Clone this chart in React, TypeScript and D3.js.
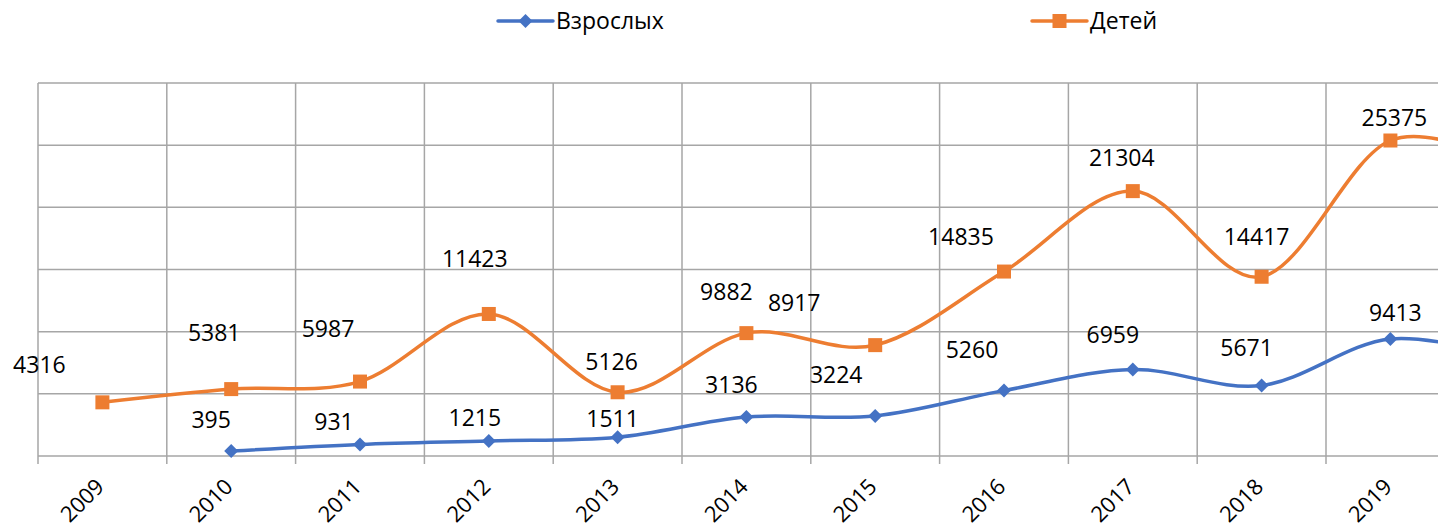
import React, { useEffect, useRef } from 'react';
import * as d3 from 'd3';

// Chart data (2020 lies past the right edge of the picture, only the curve reaches into view)
const years = ['2009', '2010', '2011', '2012', '2013', '2014', '2015', '2016', '2017', '2018', '2019', '2020'];
const adults: (number | null)[] = [null, 395, 931, 1215, 1511, 3136, 3224, 5260, 6959, 5671, 9413, 7700];
const children: (number | null)[] = [4316, 5381, 5987, 11423, 5126, 9882, 8917, 14835, 21304, 14417, 25375, 23000];
const yTicks = [0, 5000, 10000, 15000, 20000, 25000, 30000];

// Data labels were dragged by hand in the original, so keep their nudges (px from the point)
const adultLabelNudge: ([number, number] | null)[] = [
  null, [-20, -23], [-26, -14], [-14, -15], [-5, -10], [-15, -24],
  [-39, -33], [-32, -33], [-20, -26], [-15, -29], [5, -18], null
];
const childLabelNudge: ([number, number] | null)[] = [
  [-63, -29], [-17, -48], [-32, -45], [-14, -47], [-6, -22], [-20, -33],
  [-81, -34], [-43, -27], [-11, -25], [-5, -32], [4, -15], null
];

const BLUE = '#4472C4';
const ORANGE = '#ED7D31';
const GRID = '#a6a6a6';
const FONT = '"Open Sans", sans-serif';

const App = () => {
  const ref = useRef<SVGSVGElement | null>(null);

  useEffect(() => {
    if (!ref.current) return;
    const svg = d3.select(ref.current);
    svg.selectAll('*').remove();

    const width = 1438;
    const height = 530;
    const left = 38;
    const top = 83;
    const bottom = 456;
    const step = 128.8;

    const x = d3.scaleBand<string>()
      .domain(years)
      .range([left, left + step * years.length])
      .padding(0);
    const cx = (y: string) => (x(y) as number) + x.bandwidth() / 2;

    const y = d3.scaleLinear().domain([0, 30000]).range([bottom, top]);

    svg.attr('width', width).attr('height', height);
    svg.append('rect').attr('width', width).attr('height', height).attr('fill', '#fff');

    // horizontal gridlines
    svg.append('g')
      .selectAll('line')
      .data(yTicks)
      .enter()
      .append('line')
      .attr('x1', left)
      .attr('x2', left + step * years.length)
      .attr('y1', d => y(d))
      .attr('y2', d => y(d))
      .attr('stroke', GRID)
      .attr('stroke-width', 1.5);

    // vertical gridlines on category boundaries, running down into tick marks
    const bounds = years.map(d => x(d) as number).concat([left + step * years.length]);
    svg.append('g')
      .selectAll('line')
      .data(bounds)
      .enter()
      .append('line')
      .attr('x1', d => d)
      .attr('x2', d => d)
      .attr('y1', top)
      .attr('y2', bottom + 8)
      .attr('stroke', GRID)
      .attr('stroke-width', 1.5);

    // category labels, rotated (only those whose tick is in view)
    svg.append('g')
      .selectAll('text')
      .data(years.filter(d => cx(d) < width))
      .enter()
      .append('text')
      .attr('transform', d => `translate(${cx(d) + 3}, 488) rotate(-45)`)
      .attr('text-anchor', 'end')
      .style('font-family', FONT)
      .style('font-size', '22px')
      .style('fill', '#000')
      .text(d => d);

    const series = [
      { name: 'Взрослых', values: adults, color: BLUE, marker: 'diamond', nudge: adultLabelNudge },
      { name: 'Детей', values: children, color: ORANGE, marker: 'square', nudge: childLabelNudge }
    ];

    const drawMarker = (g: any, kind: string, color: string, px: number, py: number) => {
      if (kind === 'diamond') {
        g.append('path')
          .attr('d', `M${px},${py - 7}L${px + 7},${py}L${px},${py + 7}L${px - 7},${py}Z`)
          .attr('fill', color);
      } else {
        g.append('rect')
          .attr('x', px - 7)
          .attr('y', py - 7)
          .attr('width', 14)
          .attr('height', 14)
          .attr('fill', color);
      }
    };

    series.forEach(s => {
      const pts = years.map((yr, i) => ({ yr, v: s.values[i], nudge: s.nudge[i] }));

      const line = d3.line<any>()
        .defined(d => d.v !== null)
        .x(d => cx(d.yr))
        .y(d => y(d.v))
        .curve(d3.curveCatmullRom.alpha(0));

      svg.append('path')
        .datum(pts)
        .attr('d', line)
        .attr('fill', 'none')
        .attr('stroke', s.color)
        .attr('stroke-width', 3.5)
        .attr('stroke-linejoin', 'round');

      const mg = svg.append('g');
      pts.filter(d => d.v !== null).forEach(d => drawMarker(mg, s.marker, s.color, cx(d.yr), y(d.v as number)));

      // data labels
      svg.append('g')
        .selectAll('text')
        .data(pts.filter(d => d.v !== null && d.nudge))
        .enter()
        .append('text')
        .attr('x', d => cx(d.yr) + d.nudge[0])
        .attr('y', d => y(d.v) + d.nudge[1])
        .attr('text-anchor', 'middle')
        .style('font-family', FONT)
        .style('font-size', '23px')
        .style('fill', '#000')
        .text(d => String(d.v));
    });

    // legend
    const legendItems = [
      { s: series[0], x0: 498 },
      { s: series[1], x0: 1032 }
    ];
    legendItems.forEach(item => {
      const g = svg.append('g').attr('transform', `translate(${item.x0}, 21)`);
      g.append('line')
        .attr('x1', 0)
        .attr('x2', 55)
        .attr('stroke', item.s.color)
        .attr('stroke-width', 3.5)
        .attr('stroke-linecap', 'round');
      drawMarker(g, item.s.marker, item.s.color, 27.5, 0);
      g.append('text')
        .attr('x', 58)
        .attr('y', 8)
        .style('font-family', FONT)
        .style('font-size', '23px')
        .style('fill', '#000')
        .text(item.s.name);
    });
  }, []);

  return (
    <div style={{ position: 'absolute', left: 0, top: 0, width: 1438, height: 530, overflow: 'hidden', background: '#fff' }}>
      <svg ref={ref} style={{ display: 'block' }} />
    </div>
  );
};

export default App;
